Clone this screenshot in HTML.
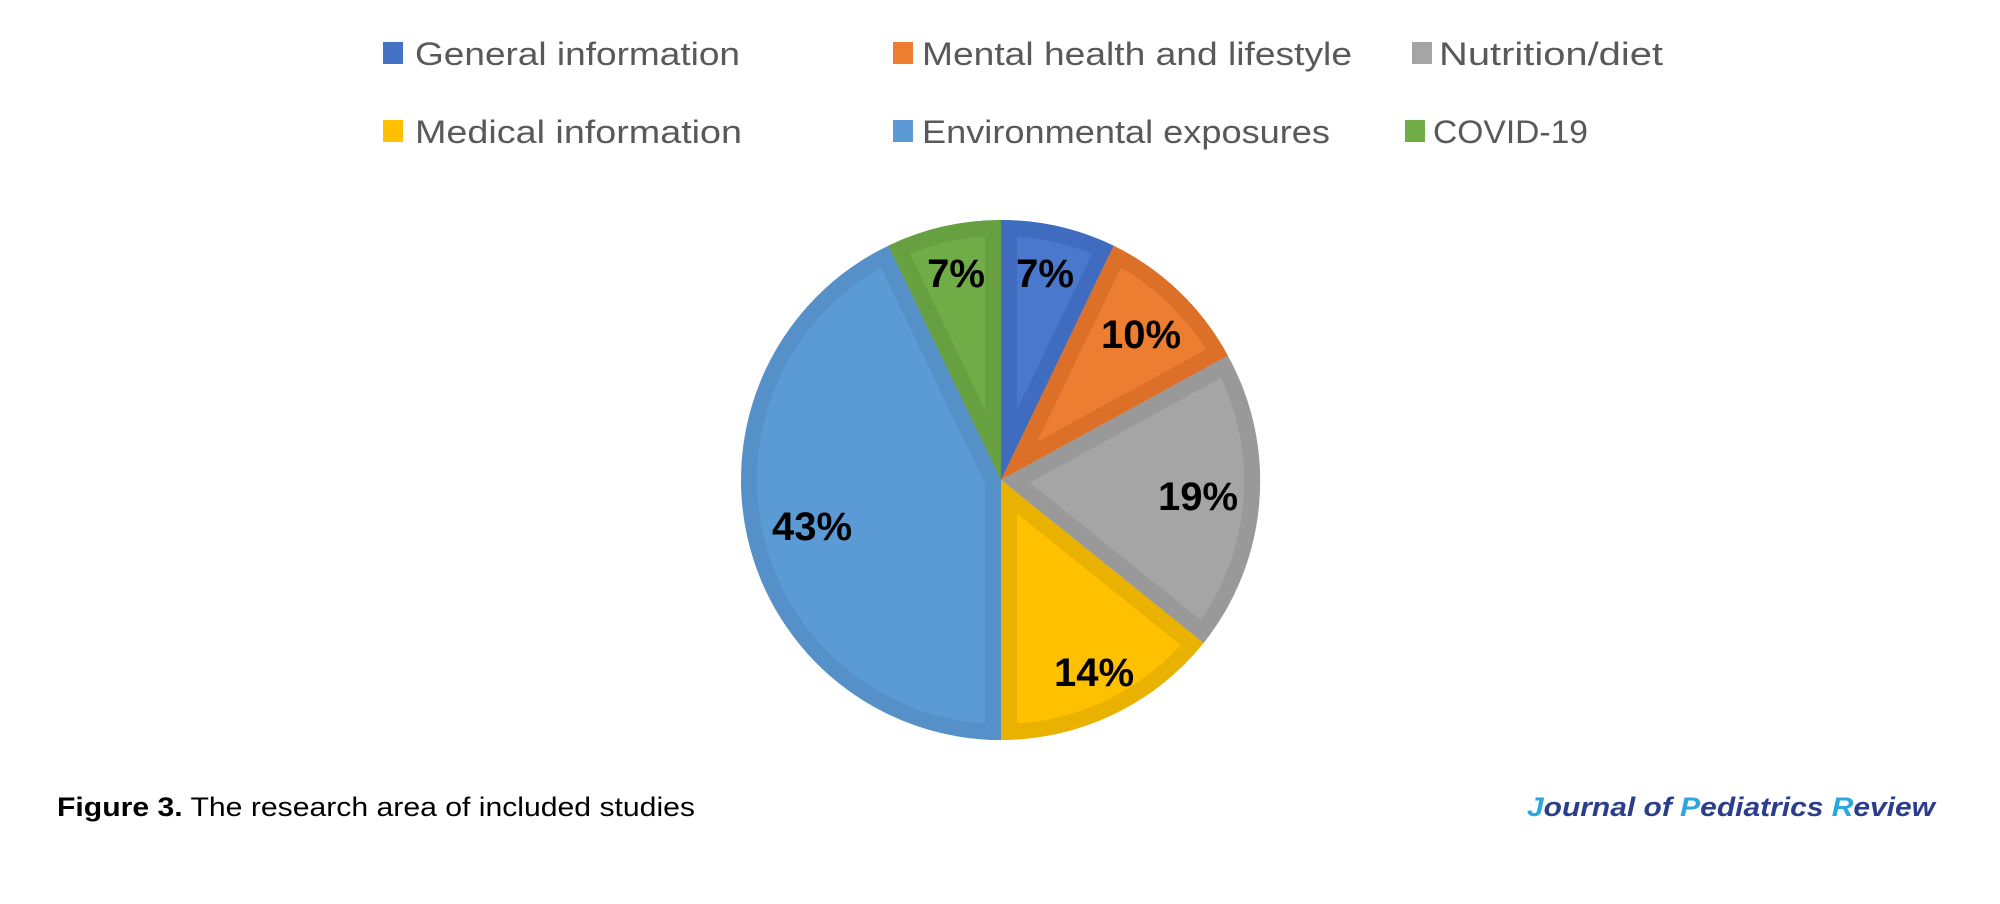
<!DOCTYPE html>
<html><head><meta charset="utf-8"><style>
html,body{margin:0;padding:0;background:#fff;}
</style></head><body>
<svg width="2000" height="899" xmlns="http://www.w3.org/2000/svg" font-family="Liberation Sans, sans-serif">
<defs>
<clipPath id="c1"><path d="M1001,480 L1001,220 A260,260 0 0 1 1113.7,245.7 Z"/></clipPath>
<clipPath id="c2"><path d="M1001,480 L1113.7,245.7 A260,260 0 0 1 1227.9,355.7 Z"/></clipPath>
<clipPath id="c3"><path d="M1001,480 L1227.9,355.7 A260,260 0 0 1 1203.6,643.0 Z"/></clipPath>
<clipPath id="c4"><path d="M1001,480 L1203.6,643.0 A260,260 0 0 1 1001,740 Z"/></clipPath>
<clipPath id="c5"><path d="M1001,480 L1001,740 A260,260 0 0 1 888.3,245.7 Z"/></clipPath>
<clipPath id="c6"><path d="M1001,480 L888.3,245.7 A260,260 0 0 1 1001,220 Z"/></clipPath>
</defs>
<g stroke-width="32" stroke-linejoin="miter">
<path clip-path="url(#c1)" d="M1001,480 L1001,220 A260,260 0 0 1 1113.7,245.7 Z" fill="#4a78cc" stroke="#3f6cbf"/>
<path clip-path="url(#c2)" d="M1001,480 L1113.7,245.7 A260,260 0 0 1 1227.9,355.7 Z" fill="#ED7D31" stroke="#dc7029"/>
<path clip-path="url(#c3)" d="M1001,480 L1227.9,355.7 A260,260 0 0 1 1203.6,643.0 Z" fill="#A5A5A5" stroke="#999999"/>
<path clip-path="url(#c4)" d="M1001,480 L1203.6,643.0 A260,260 0 0 1 1001,740 Z" fill="#FFC000" stroke="#e9b100"/>
<path clip-path="url(#c5)" d="M1001,480 L1001,740 A260,260 0 0 1 888.3,245.7 Z" fill="#5B9BD5" stroke="#5590c8"/>
<path clip-path="url(#c6)" d="M1001,480 L888.3,245.7 A260,260 0 0 1 1001,220 Z" fill="#70AD47" stroke="#66a040"/>
</g>
<g font-weight="bold" font-size="40" fill="#000" text-anchor="middle">
<text x="1045" y="287">7%</text>
<text x="956" y="287">7%</text>
<text x="1141" y="348">10%</text>
<text x="1198" y="510">19%</text>
<text x="1094" y="686">14%</text>
<text x="812" y="540">43%</text>
</g>
<g font-size="32" fill="#595959">
<rect x="383" y="42" width="20" height="22" fill="#4472C4"/>
<text x="415" y="65" textLength="325" lengthAdjust="spacingAndGlyphs">General information</text>
<rect x="893" y="42" width="20" height="22" fill="#ED7D31"/>
<text x="922" y="65" textLength="430" lengthAdjust="spacingAndGlyphs">Mental health and lifestyle</text>
<rect x="1412" y="42" width="20" height="22" fill="#A5A5A5"/>
<text x="1439" y="65" textLength="224" lengthAdjust="spacingAndGlyphs">Nutrition/diet</text>
<rect x="383" y="120" width="20" height="22" fill="#FFC000"/>
<text x="415" y="143" textLength="327" lengthAdjust="spacingAndGlyphs">Medical information</text>
<rect x="893" y="120" width="20" height="22" fill="#5B9BD5"/>
<text x="922" y="143" textLength="408" lengthAdjust="spacingAndGlyphs">Environmental exposures</text>
<rect x="1405" y="120" width="20" height="22" fill="#70AD47"/>
<text x="1433" y="143" textLength="155" lengthAdjust="spacingAndGlyphs">COVID-19</text>
</g>
<text x="57" y="816" font-size="27" fill="#000" textLength="638" lengthAdjust="spacingAndGlyphs"><tspan font-weight="bold">Figure 3.</tspan> The research area of included studies</text>
<text x="1527" y="816" font-size="27" font-weight="bold" font-style="italic" fill="#2b3e8c" textLength="408" lengthAdjust="spacingAndGlyphs"><tspan fill="#2ba6de">J</tspan>ournal of <tspan fill="#2ba6de">P</tspan>ediatrics <tspan fill="#2ba6de">R</tspan>eview</text>
</svg>
</body></html>
